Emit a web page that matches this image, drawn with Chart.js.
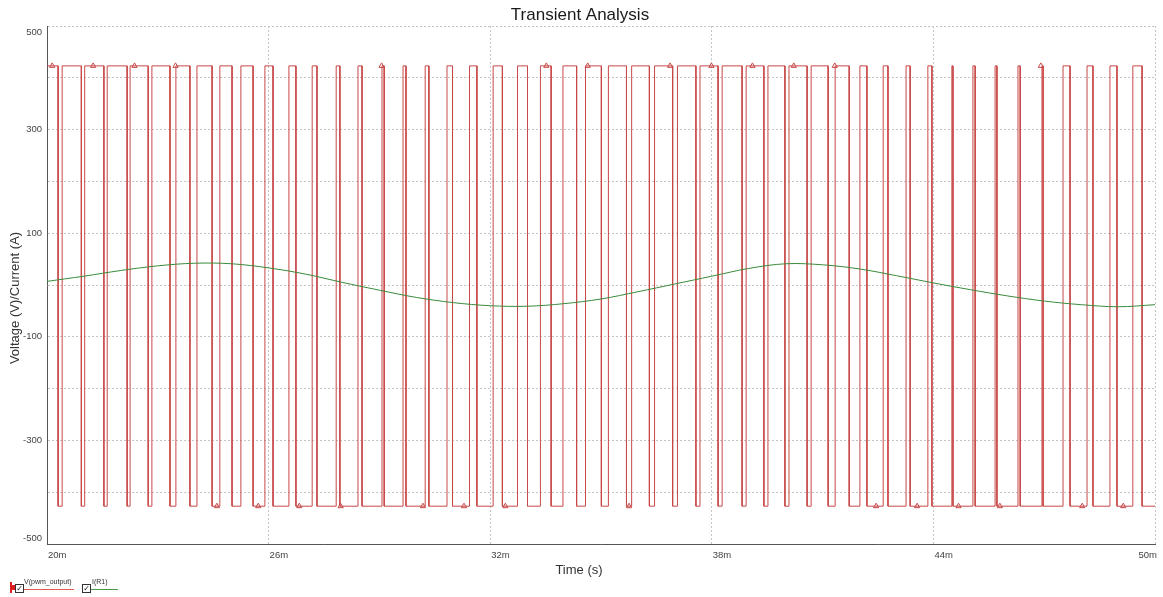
<!DOCTYPE html>
<html>
<head>
<meta charset="utf-8">
<script src="https://cdn.jsdelivr.net/npm/chart.js@4.4.1/dist/chart.umd.min.js"></script>
<style>
html,body{margin:0;padding:0;background:#fff;}
#wrap{position:relative;width:1163px;height:597px;overflow:hidden;}
#wrap canvas{position:absolute;left:0;top:0;}
.lg{position:absolute;font:7px "Liberation Sans",Arial,sans-serif;color:#333;white-space:nowrap;}
.box{position:absolute;width:7px;height:7px;border:1px solid #333;background:#fff;font:8px "DejaVu Sans",sans-serif;line-height:7px;text-align:center;color:#111;}
.bar{position:absolute;height:1px;}
</style>
</head>
<body>
<div id="wrap">
  <canvas id="chart" width="1163" height="597"></canvas>
  <div class="bar" style="left:10px;top:582px;width:2px;height:11px;background:#e02020;"></div>
  <div class="bar" style="left:12px;top:585px;width:3px;height:5px;background:#e02020;"></div>
  <div class="box" style="left:15px;top:584px;">✓</div>
  <div class="lg" style="left:24px;top:578px;">V(pwm_output)</div>
  <div class="bar" style="left:24px;top:589px;width:50px;background:#e05a5a;"></div>
  <div class="box" style="left:82px;top:584px;">✓</div>
  <div class="lg" style="left:92px;top:578px;">I(R1)</div>
  <div class="bar" style="left:91px;top:589px;width:27px;background:#4a9a4a;"></div>
</div>
<script>
/* ===== 数据 (ms / V / A) ===== */
const titleText = "Transient Analysis";
const xTitle = "Time (s)";
const yTitle = "Voltage (V)/Current (A)";
const xTickVals = [20, 26, 32, 38, 44, 50];
const xTickLabels = ["20m", "26m", "32m", "38m", "44m", "50m"];
const yTickVals = [500, 300, 100, -100, -300, -500];

const vHigh = 423, vLow = -427;
// high -> low edges
const fallMs = [20.30,20.93,21.54,22.17,22.74,23.33,23.87,24.47,25.01,25.58,
  26.12,26.74,27.31,27.93,28.53,29.13,29.72,30.34,30.98,31.64,
  32.33,33.01,33.65,34.34,35.01,35.69,36.31,36.94,37.57,38.17,
  38.82,39.41,39.98,40.58,41.15,41.72,42.20,42.77,43.37,43.96,
  44.53,45.13,45.72,46.35,46.97,47.70,48.32,48.97,49.65];
// low -> high edges
const riseMs = [20.41,21.02,21.63,22.25,22.84,23.49,24.06,24.68,25.25,25.90,
  26.55,27.18,27.83,28.42,29.07,29.64,30.24,30.83,31.44,32.08,
  32.74,33.36,33.97,34.58,35.20,35.83,36.45,37.07,37.68,38.28,
  38.93,39.52,40.09,40.69,41.34,42.01,42.64,43.26,43.85,44.50,
  45.07,45.67,46.29,46.94,47.51,48.16,48.78,49.40];

// trace markers (triangles)
const markerMs = [20.14,21.25,22.37,23.48,24.60,25.72,26.83,27.95,29.06,30.18,
  31.29,32.41,33.52,34.64,35.76,36.87,37.99,39.10,40.22,41.33,
  42.45,43.56,44.68,45.80,46.91,48.03,49.14];
const markerLvl = ["H","H","H","H","L","L","L","L","H","L",
  "L","L","H","H","L","H","H","H","H","H",
  "L","L","L","L","H","L","L"];

// I(R1)
const curMs = [20,21,22,23,24,25,26,27,28,29,30,31,32,33,34,35,36,37,38,39,40,41,42,43,44,45,46,47,48,49,50];
const curA  = [7,17,28,37,42,41,33,21,5,-10,-24,-34,-40,-41,-36,-27,-13,2,17,32,41,39,31,18,4,-9,-21,-31,-38,-42,-38];

/* ===== 组装 ===== */
const pwmPts = [{x:20, y:vHigh}];
fallMs.forEach((f,i)=>{
  pwmPts.push({x:f,y:vHigh},{x:f,y:vLow});
  if(i<riseMs.length) pwmPts.push({x:riseMs[i],y:vLow},{x:riseMs[i],y:vHigh});
});
pwmPts.push({x:50, y: fallMs.length>riseMs.length ? vLow : vHigh});

const markPts = markerMs.map((t,i)=>({x:t, y: markerLvl[i]==="H"?vHigh:vLow}));
const curPts = curMs.map((t,i)=>({x:t, y:curA[i]}));

const RED = "#c84848", GREEN = "#3a8a3a", GRID = "#c4c4c4";
const FONT = '"Liberation Sans", Arial, sans-serif';

const textPlugin = {
  id: "texts",
  afterDraw(chart){
    const {ctx, scales:{x, y}} = chart;
    ctx.save();
    ctx.fillStyle = "#1a1a1a";
    ctx.font = "17px " + FONT;
    ctx.textAlign = "center"; ctx.textBaseline = "middle";
    ctx.fillText(titleText, 580, 15);

    ctx.fillStyle = "#333";
    ctx.font = "13px " + FONT;
    ctx.fillText(xTitle, 579, 570);
    ctx.save();
    ctx.translate(15, 298); ctx.rotate(-Math.PI/2);
    ctx.fillText(yTitle, 0, 0);
    ctx.restore();

    ctx.fillStyle = "#444";
    ctx.font = "9.5px " + FONT;
    ctx.textAlign = "right";
    yTickVals.forEach((v,i)=>{
      let py = y.getPixelForValue(v);
      if(i===0) py += 6;
      if(i===yTickVals.length-1) py -= 6;
      ctx.fillText(String(v), 42, py);
    });
    xTickVals.forEach((v,i)=>{
      const px = x.getPixelForValue(v);
      if(i===xTickVals.length-1){ ctx.textAlign="right"; ctx.fillText(xTickLabels[i], px+2, 555); }
      else { ctx.textAlign="left"; ctx.fillText(xTickLabels[i], px+1, 555); }
    });
    ctx.restore();
  }
};

new Chart(document.getElementById("chart"), {
  type: "line",
  data: {
    datasets: [
      {label:"I(R1)", data:curPts, borderColor:GREEN, borderWidth:1, pointRadius:0, tension:0.35, order:0},
      {label:"V(pwm_output)", data:pwmPts, borderColor:RED, borderWidth:1, pointRadius:0, tension:0, order:1},
      {label:"marks", data:markPts, showLine:false, pointStyle:"triangle", pointRadius:3,
        pointBorderColor:RED, pointBackgroundColor:"rgba(255,255,255,0)", pointBorderWidth:1, order:2}
    ]
  },
  options: {
    responsive: false,
    animation: false,
    devicePixelRatio: 1,
    layout: {padding:{left:0, right:8, top:26, bottom:0}},
    plugins: {legend:{display:false}, tooltip:{enabled:false}, title:{display:false}},
    scales: {
      x: {
        type: "linear", min: 20, max: 50,
        ticks: {stepSize: 6, display: false},
        grid: {color: GRID, lineWidth: 1, drawTicks: false},
        border: {display: true, color: "#555", width: 1, dash: [2,2]},
        afterFit: s => { s.height = 53; }
      },
      y: {
        min: -500, max: 500,
        ticks: {stepSize: 100, display: false},
        grid: {color: GRID, lineWidth: 1, drawTicks: false},
        border: {display: true, color: "#555", width: 1, dash: [2,2]},
        afterFit: s => { s.width = 47; }
      }
    }
  },
  plugins: [textPlugin]
});
</script>
</body>
</html>
